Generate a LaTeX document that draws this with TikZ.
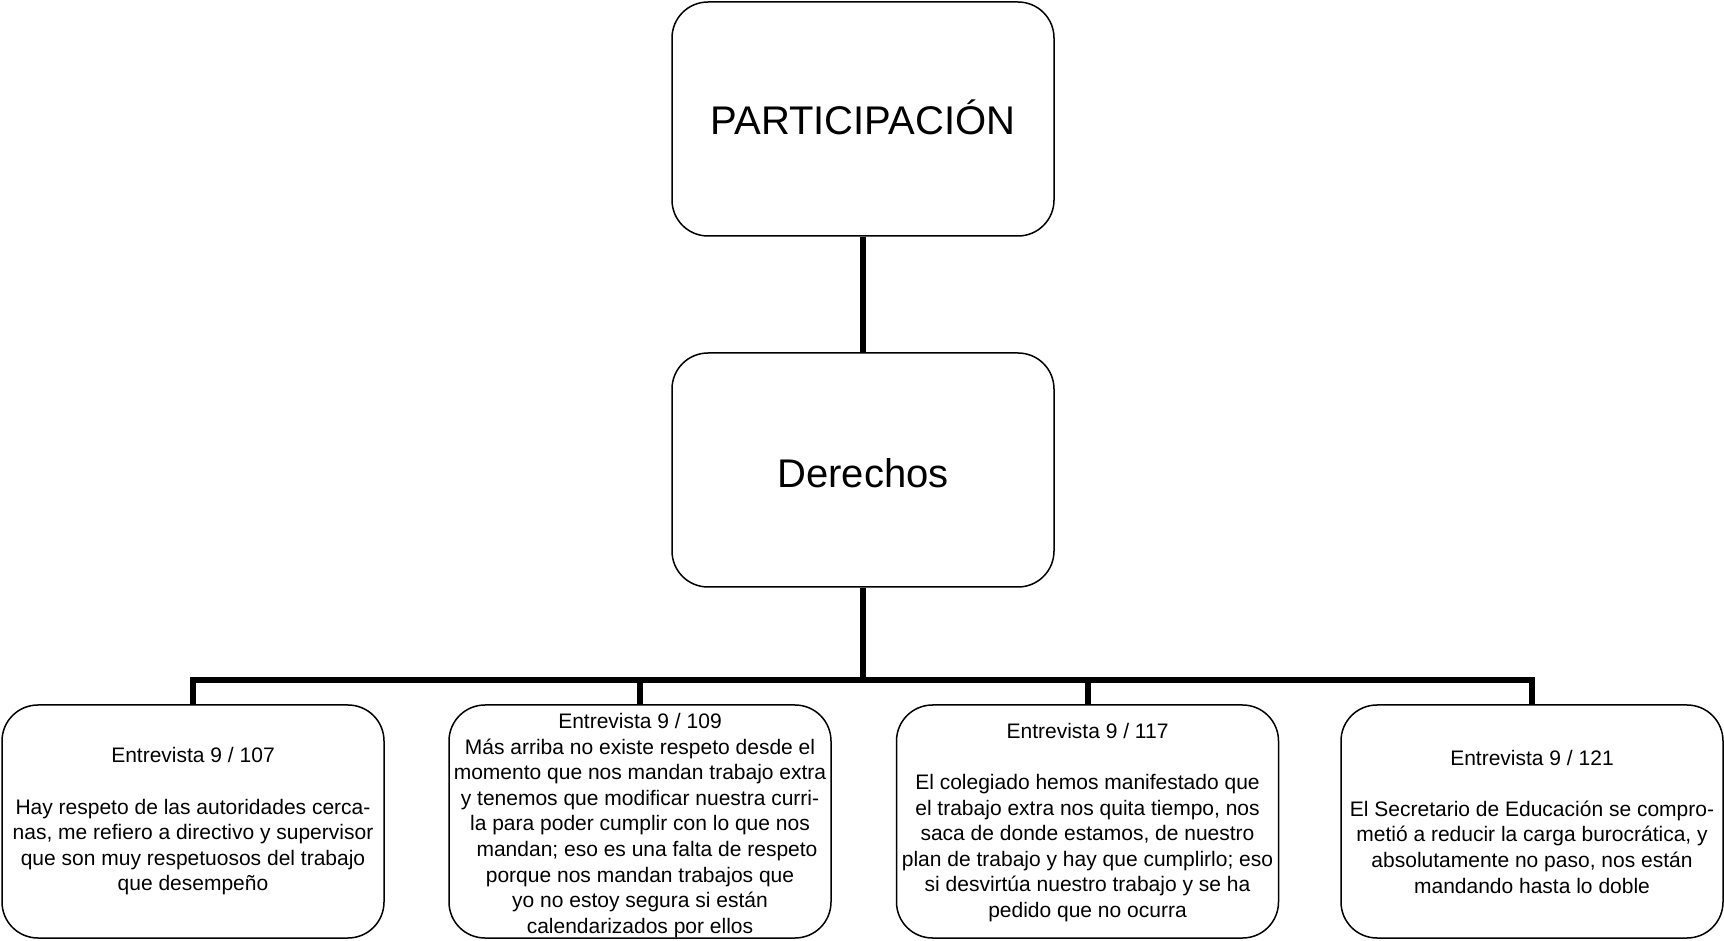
\documentclass[tikz,border=0pt]{standalone}
\usepackage{fontspec}
\setmainfont{Liberation Sans}
\begin{document}
\begin{tikzpicture}[x=1pt,y=1pt,
  box/.style={draw, line width=1.5pt, rounded corners=36pt, minimum width=382pt, minimum height=234pt, inner sep=0pt},
  bigtxt/.style={font=\fontsize{40}{48}\selectfont, inner sep=0pt},
  smalltxt/.style={font=\fontsize{21}{25.6}\selectfont, align=center, inner sep=0pt},
  conn/.style={line width=6pt, line join=miter}]
\useasboundingbox (0,0) rectangle (1724,940);
% top boxes
\node[box] (top) at (863,821) {};
\node[bigtxt] (toptxt) at (863,822.5) {PARTICIPACIÓN};
\node[box] (der) at (863,470) {};
\node[bigtxt] (dertxt) at (863,467) {Derechos};
% bottom boxes
\node[box, minimum height=233pt] (b1) at (193,118.5) {};
\node[box, minimum height=233pt] (b2) at (640,118.5) {};
\node[box, minimum height=233pt] (b3) at (1087.5,118.5) {};
\node[box, minimum height=233pt] (b4) at (1532,118.5) {};
\node[smalltxt] (t1) at (b1.center) {Entrevista 9 / 107\\[25.6pt]
Hay respeto de las autoridades cerca-\\
nas, me refiero a directivo y supervisor\\
que son muy respetuosos del trabajo\\
que desempeño};
\node[smalltxt] (t2) at ([yshift=-4pt]b2.center) {Entrevista 9 / 109\\
Más arriba no existe respeto desde el\\
momento que nos mandan trabajo extra\\
y tenemos que modificar nuestra curri-\\
la para poder cumplir con lo que nos\\
\hspace*{14pt}mandan; eso es una falta de respeto\\
porque nos mandan trabajos que\\
yo no estoy segura si están\\
calendarizados por ellos};
\node[smalltxt] (t3) at ([yshift=-1pt]b3.center) {Entrevista 9 / 117\\[25.6pt]
El colegiado hemos manifestado que\\
el trabajo extra nos quita tiempo, nos\\
saca de donde estamos, de nuestro\\
plan de trabajo y hay que cumplirlo; eso\\
si desvirtúa nuestro trabajo y se ha\\
pedido que no ocurra};
\node[smalltxt] (t4) at (b4.center) {Entrevista 9 / 121\\[25.6pt]
El Secretario de Educación se compro-\\
metió a reducir la carga burocrática, y\\
absolutamente no paso, nos están\\
mandando hasta lo doble};
% connectors
\coordinate (bar) at (863,260);
\draw[conn] (top.south) -- (der.north);
\draw[conn] (der.south) -- (bar);
\draw[conn] (b1.north) |- (bar) -| (b4.north);
\draw[conn] (b2.north) -- (b2.north |- bar);
\draw[conn] (b3.north) -- (b3.north |- bar);
\end{tikzpicture}
\end{document}
